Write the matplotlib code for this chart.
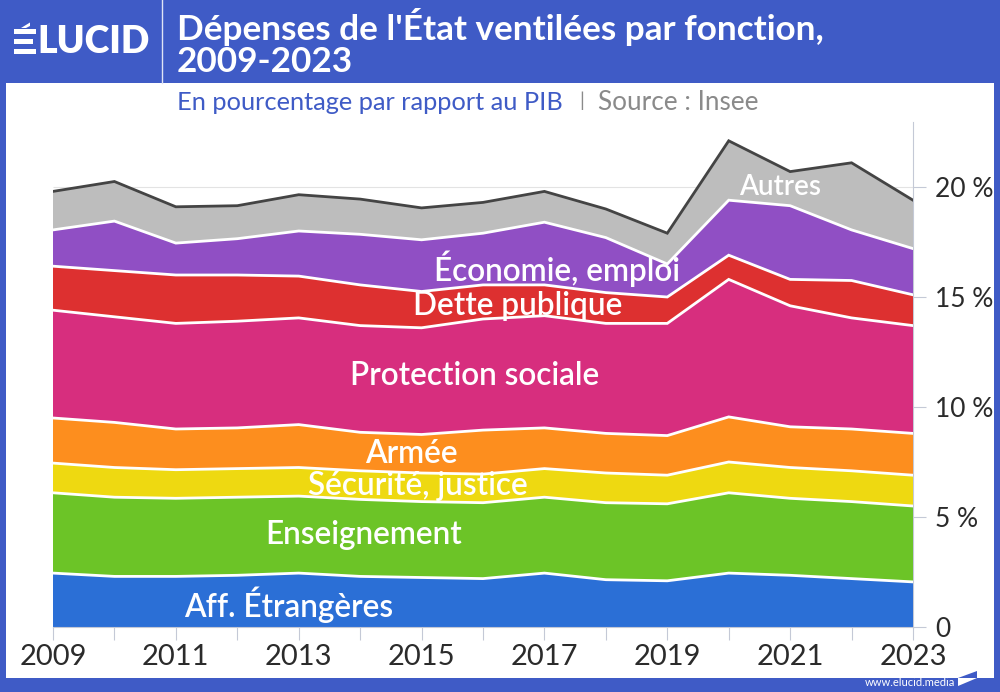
#!/usr/bin/env python3
import matplotlib
matplotlib.use("Agg")
import matplotlib.pyplot as plt
from matplotlib.patches import Polygon, Rectangle

YEARS = list(range(2009, 2024))
AFF = [2.45, 2.3, 2.3, 2.35, 2.45, 2.3, 2.25, 2.2, 2.45, 2.15, 2.1, 2.45, 2.35, 2.2, 2.05]
ENS = [3.65, 3.6, 3.55, 3.55, 3.5, 3.5, 3.45, 3.45, 3.45, 3.5, 3.5, 3.65, 3.5, 3.5, 3.45]
SEC = [1.35, 1.35, 1.3, 1.3, 1.3, 1.3, 1.3, 1.3, 1.3, 1.35, 1.3, 1.4, 1.4, 1.4, 1.4]
ARM = [2.05, 2.05, 1.85, 1.85, 1.95, 1.75, 1.75, 2.0, 1.85, 1.8, 1.8, 2.05, 1.85, 1.9, 1.9]
PROT = [4.9, 4.8, 4.8, 4.85, 4.85, 4.85, 4.85, 5.05, 5.1, 5.0, 5.1, 6.25, 5.5, 5.05, 4.9]
DETTE = [2.0, 2.1, 2.2, 2.1, 1.9, 1.85, 1.65, 1.55, 1.4, 1.4, 1.2, 1.1, 1.2, 1.7, 1.4]
ECO = [1.65, 2.25, 1.45, 1.65, 2.05, 2.3, 2.35, 2.35, 2.85, 2.5, 1.5, 2.5, 3.35, 2.3, 2.1]
AUTRES = [1.75, 1.8, 1.65, 1.5, 1.65, 1.6, 1.45, 1.4, 1.4, 1.3, 1.4, 2.7, 1.55, 3.05, 2.2]

SERIES = [AFF, ENS, SEC, ARM, PROT, DETTE, ECO, AUTRES]
COLORS = ["#2b6fd6", "#6cc427", "#eed911", "#fd8e1e", "#d72e7e", "#dd3030", "#904fc4", "#bdbdbd"]
LABELS = ["Aff. Étrangères", "Enseignement", "Sécurité, justice", "Armée",
          "Protection sociale", "Dette publique", "Économie, emploi", "Autres"]
LABEL_X = [2012.83, 2014.06, 2014.94, 2014.83, 2015.87, 2016.57, 2017.2, 2020.83]
LABEL_Y = [1.03, 4.17, 6.42, 7.88, 11.42, 14.6, 16.3, 19.98]
LABEL_SIZE = [22.7, 22.7, 22.7, 22.7, 22.7, 22.7, 22.7, 20]
YTICKS = [0, 5, 10, 15, 20]
YTICK_LABELS = ["0", "5 %", "10 %", "15 %", "20 %"]

BLUE = "#3f5bc6"
W, H = 1000, 692

plt.rcParams["font.family"] = ["Lato", "DejaVu Sans"]

fig = plt.figure(figsize=(W / 100, H / 100), dpi=100, facecolor=BLUE)

# page furniture, in pixel coordinates of the reference
bg = fig.add_axes([0, 0, 1, 1], zorder=0)
bg.set_xlim(0, W)
bg.set_ylim(H, 0)
bg.axis("off")
bg.add_patch(Rectangle((6, 83), 988, 595, facecolor="white", edgecolor="none"))
bg.plot([162, 162], [0, 83], color="#dfe4f5", lw=1)

# logo: the E is three bars with a slanted accent
for top, width in [(29, 22), (39, 19), (49, 22)]:
    bg.add_patch(Rectangle((14, top), width, 5, facecolor="white", edgecolor="none"))
bg.add_patch(Polygon([(21, 28), (30, 22.5), (30, 26), (26, 28)], facecolor="white", edgecolor="none"))
bg.text(37, 42, "LUCID", color="white", fontsize=27, fontweight="heavy", va="center", ha="left")

bg.text(177, 27, "Dépenses de l'État ventilées par fonction,", color="white", fontsize=25.3,
        fontweight="bold", va="center", ha="left")
bg.text(177, 62, "2009-2023", color="white", fontsize=25.3, fontweight="bold", va="center", ha="left")
bg.text(177, 103, "En pourcentage par rapport au PIB", color=BLUE, fontsize=18.3, va="center", ha="left")
bg.text(579, 101, "|", color="#8a8a8a", fontsize=14, va="center", ha="left")
bg.text(598, 103, "Source : Insee", color="#8a8a8a", fontsize=18.8, va="center", ha="left")
bg.text(865, 683, "www.elucid.media", color="white", fontsize=8, va="center", ha="left")
bg.add_patch(Polygon([(958, 678), (977, 671), (977, 678)], facecolor=BLUE, edgecolor="none"))
bg.add_patch(Polygon([(958, 678), (977, 678), (958, 686)], facecolor="white", edgecolor="none"))

ax = fig.add_axes([53 / W, (H - 627) / H, 860 / W, 505 / H], zorder=1)
ax.patch.set_alpha(0)
ax.set_xlim(2009, 2023)
ax.set_ylim(0, 505 / 22)

ax.hlines(YTICKS[1:], 2009, 2023, color="#e3e3e3", lw=0.8, zorder=0)
ax.stackplot(YEARS, SERIES, colors=COLORS, linewidth=0, zorder=1)

total = [0.0] * len(YEARS)
for i, values in enumerate(SERIES):
    total = [a + b for a, b in zip(total, values)]
    line_color = "#444444" if i == len(SERIES) - 1 else "white"
    ax.plot(YEARS, total, color=line_color, lw=2, zorder=2, solid_joinstyle="miter")

for name, x, y, size in zip(LABELS, LABEL_X, LABEL_Y, LABEL_SIZE):
    ax.text(x, y, name, color="white", fontsize=size, fontweight="semibold", ha="center", va="center", zorder=3)

for side in ["top", "left"]:
    ax.spines[side].set_visible(False)
ax.spines["right"].set_color("#c4c9d6")
ax.spines["bottom"].set_color("#c4c9d6")
ax.spines["right"].set_zorder(0)

ax.yaxis.tick_right()
ax.set_yticks(YTICKS, YTICK_LABELS)
ax.set_xticks(YEARS, [str(y) if (y - 2009) % 2 == 0 else "" for y in YEARS])
ax.tick_params(axis="y", length=9, width=0.8, color="#c4c9d6", labelsize=19, labelcolor="#2b2b2b", pad=7)
ax.tick_params(axis="x", length=9, width=0.8, color="#c4c9d6", labelsize=21, labelcolor="#2b2b2b", pad=3)

fig.savefig("out.png", dpi=100, facecolor=BLUE)
